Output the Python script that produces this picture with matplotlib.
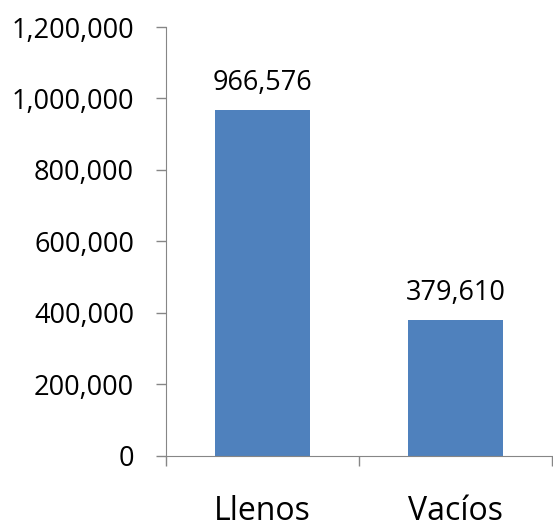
import matplotlib
matplotlib.use('Agg')
import matplotlib.pyplot as plt
from matplotlib.ticker import FuncFormatter

# ─── Data ────────────────────────────────────────────────────────────────────
categories = ['Llenos', 'Vacíos']
values = [966576, 379610]
y_ticks = [0, 200000, 400000, 600000, 800000, 1000000, 1200000]

BAR_COLOR = '#4F81BD'
AXIS_COLOR = '#868686'

plt.rcParams['font.family'] = ['Open Sans', 'DejaVu Sans']

fig = plt.figure(figsize=(5.53, 5.30), dpi=100)
ax = fig.add_axes([0.300, 0.140, 0.698, 0.809])

x = list(range(len(categories)))
bars = ax.bar(x, values, width=0.49, color=BAR_COLOR)

# value labels above bars
for xi, v in zip(x, values):
    ax.text(xi, v + 37000, f'{v:,}', ha='center', va='bottom', fontsize=19.5)

ax.set_xlim(-0.5, len(categories) - 0.5)
ax.set_ylim(0, 1200000)
ax.set_yticks(y_ticks)
ax.yaxis.set_major_formatter(FuncFormatter(lambda v, p: f'{int(v):,}'))

# category labels centred, tick marks on category boundaries
ax.set_xticks(x)
ax.set_xticklabels(categories, fontsize=23)
ax.set_xticks([i - 0.5 for i in range(len(categories) + 1)], minor=True)
ax.tick_params(axis='x', which='major', length=0, pad=28)
ax.tick_params(axis='x', which='minor', length=7, color=AXIS_COLOR, width=1)
ax.tick_params(axis='y', length=7, color=AXIS_COLOR, width=1, labelsize=19.5, pad=16)

for side in ['top', 'right']:
    ax.spines[side].set_visible(False)
for side in ['left', 'bottom']:
    ax.spines[side].set_color(AXIS_COLOR)

fig.savefig('out.png', dpi=100)
